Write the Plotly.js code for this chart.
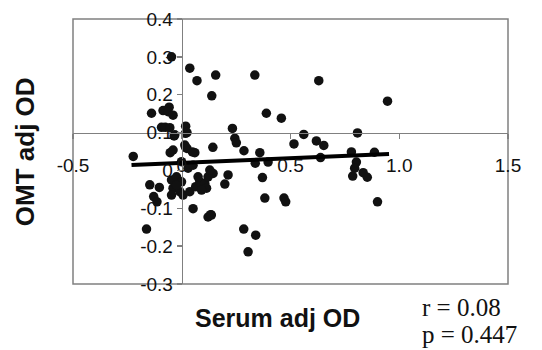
<!DOCTYPE html>
<html>
<head>
<meta charset="utf-8">
<script src="https://cdn.plot.ly/plotly-3.0.1.min.js"></script>
<style>html,body{margin:0;padding:0;background:#fff;}#chart{width:542px;height:350px;}</style>
</head>
<body>
<div id="chart"></div>
<script>
// Serum adj OD (x) and OMT adj OD (y)
var serumOD = [
  -0.047, 0.037, 0.070, 0.156, 0.336, 0.138, 0.630, 0.946, 0.389, 0.458,
  0.233, 0.244, 0.251, 0.143, 0.286, 0.359, 0.561, 0.516, 0.619, 0.653,
  0.638, 0.808, 0.780, 0.886, 0.803, 0.795, 0.786, 0.834, 0.853, 0.900,
  0.144, 0.213, 0.198, 0.338, 0.397, 0.371, 0.382, 0.470, 0.478, 0.136,
  0.285, 0.340, 0.305, -0.223, -0.147, -0.103, -0.129, -0.114, -0.162, 0.052,
  0.121, 0.133, -0.035, 0.017, -0.040, -0.053, 0.014, 0.024, 0.060, -0.139,
  -0.086, -0.058, -0.063, -0.040, -0.093, -0.076, -0.055, -0.032, 0.018, 0.024,
  0.018, 0.049, -0.047, -0.024, -0.001, -0.040, -0.009, -0.047, 0.006, -0.024,
  0.037, 0.064, 0.083, 0.106, 0.075, 0.121, 0.129, 0.029, -0.001, 0.052,
  0.114, 0.091
];
var omtOD = [
  0.300, 0.270, 0.237, 0.252, 0.252, 0.197, 0.237, 0.183, 0.151, 0.138,
  0.111, 0.085, 0.073, 0.061, 0.052, 0.047, 0.095, 0.070, 0.078, 0.066,
  0.034, 0.099, 0.049, 0.048, 0.022, 0.006, -0.015, -0.006, -0.018, -0.083,
  -0.008, -0.012, -0.036, 0.019, 0.022, -0.019, -0.073, -0.073, -0.083, -0.118,
  -0.155, -0.171, -0.215, 0.037, -0.038, -0.045, -0.069, -0.083, -0.155, -0.101,
  -0.123, -0.117, 0.091, 0.098, 0.054, 0.047, 0.067, 0.058, 0.047, 0.151,
  0.158, 0.167, 0.155, 0.146, 0.114, 0.114, 0.113, 0.094, 0.117, 0.100,
  0.061, 0.049, -0.025, -0.017, -0.030, -0.047, -0.056, -0.065, -0.065, -0.039,
  -0.056, -0.043, -0.030, -0.034, -0.017, -0.017, 0.001, 0.006, 0.023, 0.014,
  -0.047, -0.052
];
// regression line endpoints
var fitX = [-0.231, 0.953];
var fitY = [0.0143, 0.0433];

var xTickVals = [-0.5, 0, 0.5, 1.0, 1.5];
var xTickText = ['-0.5', '0', '0.5', '1.0', '1.5'];
var yTickVals = [-0.3, -0.2, -0.1, 0, 0.1, 0.2, 0.3, 0.4];
var yTickText = ['-0.3', '-0.2', '-0.1', '0', '0.1', '0.2', '0.3', '0.4'];

var axisGray = '#808080';
var tickFont = {family: 'Liberation Sans, Arial, sans-serif', size: 19, color: '#111'};

var traces = [
  {x: serumOD, y: omtOD, type: 'scatter', mode: 'markers',
   marker: {color: '#111', size: 9.5}, hoverinfo: 'x+y'},
  {x: fitX, y: fitY, type: 'scatter', mode: 'lines',
   line: {color: '#000', width: 4}, hoverinfo: 'skip'}
];

var layout = {
  width: 542, height: 350,
  margin: {l: 73, r: 34, t: 19, b: 66},
  paper_bgcolor: '#fff', plot_bgcolor: '#fff',
  showlegend: false,
  xaxis: {
    range: [-0.5, 1.5], anchor: 'free', position: 0.5714,
    tickvals: xTickVals, ticktext: xTickText,
    showgrid: false, zeroline: false,
    showline: true, linecolor: axisGray, linewidth: 1.5,
    ticks: 'outside', ticklen: 5, tickcolor: axisGray, tickwidth: 1.5,
    ticklabelstandoff: 10,
    tickfont: tickFont
  },
  yaxis: {
    range: [-0.3, 0.4], anchor: 'free', position: 0.25,
    tickvals: yTickVals, ticktext: yTickText,
    showgrid: false, zeroline: false,
    showline: true, linecolor: axisGray, linewidth: 1.5,
    ticks: 'outside', ticklen: 5, tickcolor: axisGray, tickwidth: 1.5,
    tickfont: tickFont
  },
  shapes: [
    {type: 'rect', xref: 'paper', yref: 'paper', x0: 0, x1: 1, y0: 0, y1: 1,
     line: {color: axisGray, width: 1.5}, layer: 'below'}
  ],
  annotations: [
    {text: '<b>OMT adj OD</b>', xref: 'paper', yref: 'paper', x: -0.110, y: 0.498,
     xanchor: 'center', yanchor: 'middle', textangle: -90, showarrow: false,
     font: {family: 'Liberation Sans, Arial, sans-serif', size: 26, color: '#111'}},
    {text: '<b>Serum adj OD</b>', xref: 'paper', yref: 'paper', x: 0.471, y: -0.128,
     xanchor: 'center', yanchor: 'middle', showarrow: false,
     font: {family: 'Liberation Sans, Arial, sans-serif', size: 25, color: '#111'}},
    {text: 'r = 0.08', xref: 'paper', yref: 'paper', x: 0.798, y: -0.087,
     xanchor: 'left', yanchor: 'middle', showarrow: false,
     font: {family: 'Liberation Serif, Times New Roman, serif', size: 25, color: '#111'}},
    {text: 'p = 0.447', xref: 'paper', yref: 'paper', x: 0.798, y: -0.192,
     xanchor: 'left', yanchor: 'middle', showarrow: false,
     font: {family: 'Liberation Serif, Times New Roman, serif', size: 25, color: '#111'}}
  ]
};

Plotly.newPlot('chart', traces, layout, {displayModeBar: false, staticPlot: true});
</script>
</body>
</html>
